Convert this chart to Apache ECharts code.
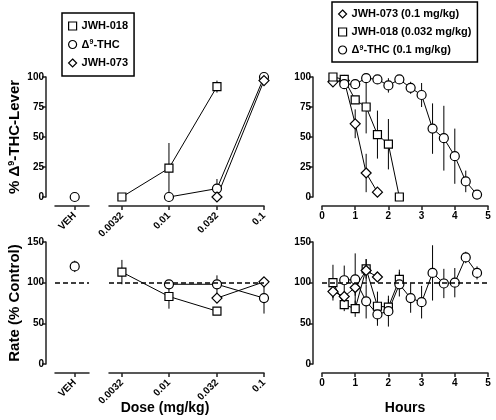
<!DOCTYPE html>
<html><head><meta charset="utf-8">
<script src="https://cdn.jsdelivr.net/npm/echarts@6/dist/echarts.min.js"></script>
<style>html,body{margin:0;padding:0;background:#fff}#c{width:496px;height:420px}</style>
</head><body><div id="c"></div>
<script>
// ---------- data ----------
const doseLabels = ['0.0032', '0.01', '0.032', '0.1'];
const doses = [0.0032, 0.01, 0.032, 0.1];
const vehLabel = 'VEH';
const hours = [0.33, 0.67, 1.0, 1.33, 1.67, 2.0, 2.33, 2.67, 3.0, 3.33, 3.67, 4.0, 4.33, 4.67];

// top-left: % THC-lever responding vs dose
const thcVehDisc = 0;
const jwh018Disc = [0, 24, 92, null];
const jwh018DiscErr = [0, 21, 5, null];
const thcDisc = [null, 0, 7, 100];
const thcDiscErr = [null, 0, 8, 0];
const jwh073Disc = [null, null, 0, 97];
const jwh073DiscErr = [null, null, 0, 0];

// top-right: % THC-lever responding vs time
const jwh073Time = [96, 97, 61, 20, 4];
const jwh073TimeErr = [2, 2, 12, 16, 0];
const jwh018Time = [100, 98, 81, 75, 52, 44, 0];
const jwh018TimeErr = [0, 2, 3, 22, 20, 21, 0];
const thcTime = [null, 94, 94, 99, 98, 93, 98, 91, 85, 57, 49, 34, 13, 2];
const thcTimeErr = [null, 2, 3, 1, 1, 6, 1, 5, 10, 21, 27, 23, 9, 0];

// bottom-left: rate vs dose
const thcVehRate = 120;
const thcVehRateErr = 7;
const jwh018Rate = [113, 83, 65, null];
const jwh018RateErr = [15, 15, 3, null];
const thcRate = [null, 98, 98, 81];
const thcRateErr = [null, 5, 11, 19];
const jwh073Rate = [null, null, 81, 101];
const jwh073RateErr = [null, null, 3, 3];

// bottom-right: rate vs time
const jwh018RateTime = [100, 73, 68, 117, 71, 70, 104];
const jwh018RateTimeErr = [22, 8, 10, 12, 18, 10, 12];
const jwh073RateTime = [89, 83, 94, 115, 107];
const jwh073RateTimeErr = [8, 6, 10, 14, 3];
const thcRateTime = [null, 103, 104, 77, 61, 65, 98, 81, 76, 112, 99, 100, 131, 112];
const thcRateTimeErr = [null, 18, 32, 21, 14, 19, 15, 18, 20, 34, 18, 18, 7, 8];

// ---------- helpers ----------
const FONT = 'Liberation Sans, Arial, sans-serif';
const lx = d => Math.log10(d);
const doseX = doses.map(lx);
function pts(xs, ys) {
  const out = [];
  ys.forEach((y, i) => { if (y !== null && y !== undefined) out.push([xs[i], y]); });
  return out;
}
function errs(xs, ys, es) {
  const out = [];
  ys.forEach((y, i) => { if (y !== null && es[i]) out.push([xs[i], y - es[i], y + es[i]]); });
  return out;
}
const axisLineStyle = { color: '#222', width: 1.5 };
const labelStyle = { fontSize: 10, fontWeight: 'bold', color: '#000', fontFamily: FONT };
const grids = [
  { left: 55, width: 34, top: 77, height: 120 },   // 0 top VEH
  { left: 109, width: 155, top: 77, height: 120 }, // 1 top dose
  { left: 322, width: 166, top: 77, height: 120 }, // 2 top hours
  { left: 55, width: 34, top: 242, height: 122 },  // 3 bottom VEH
  { left: 109, width: 155, top: 242, height: 122 },// 4 bottom dose
  { left: 322, width: 166, top: 242, height: 122 } // 5 bottom hours
];
function vehX(g) {
  return { type: 'value', gridIndex: g, min: -0.58, max: 0.42, offset: 9,
    axisLine: { show: true, onZero: false, lineStyle: axisLineStyle },
    axisTick: { show: true, length: 4, customValues: [0], lineStyle: axisLineStyle },
    axisLabel: Object.assign({ customValues: [0], formatter: () => vehLabel, rotate: 45, margin: 8 }, labelStyle),
    splitLine: { show: false } };
}
function doseAxis(g) {
  return { type: 'value', gridIndex: g, min: lx(0.00234), max: lx(0.1), offset: 9,
    axisLine: { show: true, onZero: false, lineStyle: axisLineStyle },
    axisTick: { show: true, length: 4, customValues: doseX, lineStyle: axisLineStyle },
    axisLabel: Object.assign({ customValues: doseX, rotate: 45, margin: 8,
      formatter: v => { const i = doseX.findIndex(d => Math.abs(d - v) < 1e-6); return i >= 0 ? doseLabels[i] : ''; } }, labelStyle),
    splitLine: { show: false } };
}
function hourAxis(g) {
  return { type: 'value', gridIndex: g, min: 0, max: 5, interval: 1, offset: 9,
    axisLine: { show: true, onZero: false, lineStyle: axisLineStyle },
    axisTick: { show: true, length: 4, lineStyle: axisLineStyle },
    axisLabel: Object.assign({ margin: 5 }, labelStyle),
    splitLine: { show: false } };
}
function yAx(g, max, interval, show) {
  return { type: 'value', gridIndex: g, min: 0, max: max, interval: interval, offset: show ? 9 : 0, show: show,
    axisLine: { show: true, onZero: false, lineStyle: axisLineStyle },
    axisTick: { show: true, length: 4, lineStyle: axisLineStyle },
    axisLabel: Object.assign({ margin: 2 }, labelStyle),
    splitLine: { show: false } };
}
const SYM = { rect: 8, circle: 9, diamond: 10 };
function lineS(name, g, data, symbol, markLine) {
  const s = { type: 'line', name: name, xAxisIndex: g, yAxisIndex: g, data: data, symbol: symbol,
    symbolSize: SYM[symbol], showSymbol: true, clip: false, z: 3,
    itemStyle: { color: '#fff', borderColor: '#000', borderWidth: 1.2 },
    lineStyle: { color: '#000', width: 1 }, emphasis: { disabled: true }, animation: false };
  if (markLine) s.markLine = { silent: true, symbol: 'none', label: { show: false },
    lineStyle: { color: '#000', type: [5, 3], width: 1.5 }, data: [{ yAxis: 100 }], animation: false };
  return s;
}
function errS(g, data) {
  return { type: 'custom', xAxisIndex: g, yAxisIndex: g, data: data, z: 1, clip: false, silent: true, animation: false,
    encode: { x: 0, y: [1, 2] },
    renderItem: (params, api) => {
      const x = api.value(0);
      const a = api.coord([x, api.value(1)]);
      const b = api.coord([x, api.value(2)]);
      return { type: 'line', shape: { x1: a[0], y1: a[1], x2: b[0], y2: b[1] }, style: { stroke: '#000', lineWidth: 1 } };
    } };
}
const THC = 'Δ9-THC', J18 = 'JWH-018', J73 = 'JWH-073';
const THCt = 'Δ9-THC (0.1 mg/kg)', J18t = 'JWH-018 (0.032 mg/kg)', J73t = 'JWH-073 (0.1 mg/kg)';

const series = [
  // top-left
  errS(1, errs(doseX, jwh018Disc, jwh018DiscErr)),
  errS(1, errs(doseX, thcDisc, thcDiscErr)),
  lineS(THC, 0, [[0, thcVehDisc]], 'circle'),
  lineS(J18, 1, pts(doseX, jwh018Disc), 'rect'),
  lineS(THC, 1, pts(doseX, thcDisc), 'circle'),
  lineS(J73, 1, pts(doseX, jwh073Disc), 'diamond'),
  // top-right
  errS(2, errs(hours, jwh073Time, jwh073TimeErr)),
  errS(2, errs(hours, jwh018Time, jwh018TimeErr)),
  errS(2, errs(hours, thcTime, thcTimeErr)),
  lineS(J73t, 2, pts(hours, jwh073Time), 'diamond'),
  lineS(J18t, 2, pts(hours, jwh018Time), 'rect'),
  lineS(THCt, 2, pts(hours, thcTime), 'circle'),
  // bottom-left
  errS(3, [[0, thcVehRate - thcVehRateErr, thcVehRate + thcVehRateErr]]),
  errS(4, errs(doseX, jwh018Rate, jwh018RateErr)),
  errS(4, errs(doseX, thcRate, thcRateErr)),
  errS(4, errs(doseX, jwh073Rate, jwh073RateErr)),
  lineS(THC, 3, [[0, thcVehRate]], 'circle', true),
  lineS(J18, 4, pts(doseX, jwh018Rate), 'rect', true),
  lineS(THC, 4, pts(doseX, thcRate), 'circle'),
  lineS(J73, 4, pts(doseX, jwh073Rate), 'diamond'),
  // bottom-right
  errS(5, errs(hours, jwh018RateTime, jwh018RateTimeErr)),
  errS(5, errs(hours, jwh073RateTime, jwh073RateTimeErr)),
  errS(5, errs(hours, thcRateTime, thcRateTimeErr)),
  lineS(J18t, 5, pts(hours, jwh018RateTime), 'rect', true),
  lineS(J73t, 5, pts(hours, jwh073RateTime), 'diamond'),
  lineS(THCt, 5, pts(hours, thcRateTime), 'circle')
];

const rich = {
  n: { fontSize: 11, fontWeight: 'bold', color: '#000', fontFamily: FONT },
  s: { fontSize: 7, fontWeight: 'bold', color: '#000', fontFamily: FONT, verticalAlign: 'top' }
};
const supFmt = name => name.indexOf('Δ9') === 0 ? '{n|Δ}{s|9}{n|' + name.slice(2) + '}' : '{n|' + name + '}';
function legend(left, top, names, icons, gap, pad) {
  return { show: true, orient: 'vertical', left: left, top: top, padding: [pad, 6, pad, 6], itemGap: gap,
    itemWidth: 8, itemHeight: 8, borderColor: '#000', borderWidth: 1.5, selectedMode: false,
    itemStyle: { color: '#fff', borderColor: '#000', borderWidth: 1.2 },
    textStyle: { fontSize: 11, fontWeight: 'bold', color: '#000', fontFamily: FONT, rich: rich },
    formatter: supFmt,
    data: names.map((n, i) => ({ name: n, icon: icons[i] })) };
}
const titleRich = {
  t: { fontSize: 15, fontWeight: 'bold', fill: '#000', fontFamily: FONT },
  s: { fontSize: 9, fontWeight: 'bold', fill: '#000', fontFamily: FONT, verticalAlign: 'top' }
};

const option = {
  backgroundColor: '#fff',
  animation: false,
  grid: grids,
  xAxis: [vehX(0), doseAxis(1), hourAxis(2), vehX(3), doseAxis(4), hourAxis(5)],
  yAxis: [yAx(0, 100, 25, true), yAx(1, 100, 25, false), yAx(2, 100, 25, true),
          yAx(3, 150, 50, true), yAx(4, 150, 50, false), yAx(5, 150, 50, true)],
  legend: [legend(62, 13, [J18, THC, J73], ['rect', 'circle', 'diamond'], 7.5, 7.5),
           legend(332, 2, [J73t, J18t, THCt], ['diamond', 'rect', 'circle'], 7, 6.5)],
  graphic: [
    { type: 'text', x: 15, y: 137, rotation: Math.PI / 2,
      style: { text: '{t|% Δ}{s|9}{t|-THC-Lever}', rich: titleRich, align: 'center', verticalAlign: 'middle' } },
    { type: 'text', x: 15, y: 303, rotation: Math.PI / 2,
      style: { text: 'Rate (% Control)', font: 'bold 15px ' + FONT, fill: '#000', align: 'center', verticalAlign: 'middle' } },
    { type: 'text', x: 165, y: 408,
      style: { text: 'Dose (mg/kg)', font: 'bold 14px ' + FONT, fill: '#000', align: 'center', verticalAlign: 'middle' } },
    { type: 'text', x: 405, y: 408,
      style: { text: 'Hours', font: 'bold 14px ' + FONT, fill: '#000', align: 'center', verticalAlign: 'middle' } }
  ],
  series: series
};
const chart = echarts.init(document.getElementById('c'), null, { renderer: 'canvas' });
chart.setOption(option);
</script></body></html>
